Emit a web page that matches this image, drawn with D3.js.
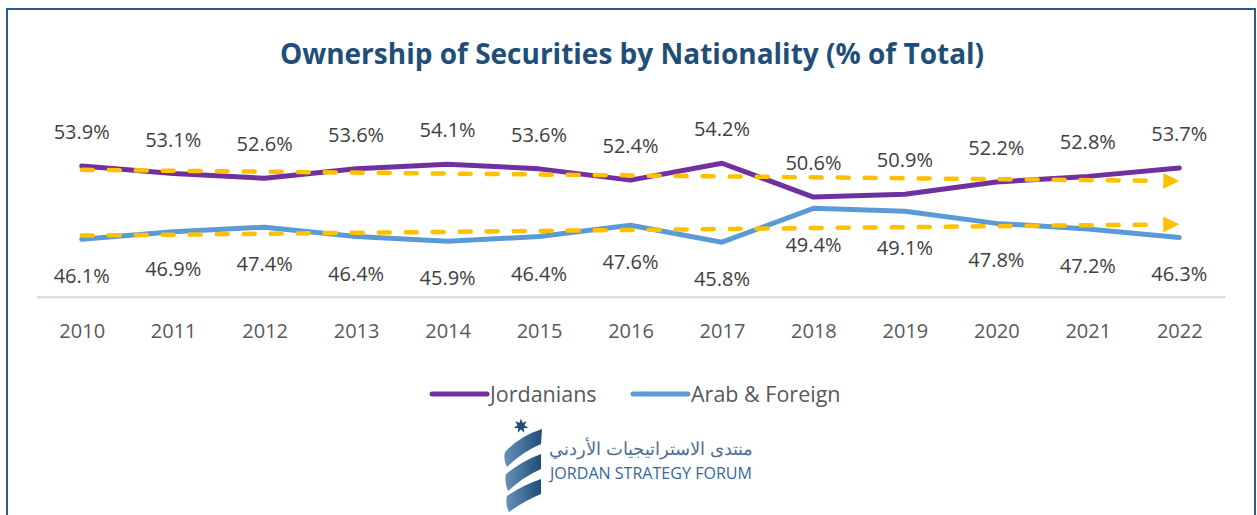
<!DOCTYPE html>
<html>
<head>
<meta charset="utf-8">
<script src="https://cdn.jsdelivr.net/npm/d3@7"></script>
<style>
  body { margin: 0; background: #fff; }
  svg { display: block; }
  text { font-family: "Open Sans", "Noto Sans", sans-serif; }
</style>
</head>
<body>
<svg id="chart" width="1257" height="515"></svg>
<script>

// data
var years       = ["2010","2011","2012","2013","2014","2015","2016","2017","2018","2019","2020","2021","2022"];
var jordanians  = [53.9, 53.1, 52.6, 53.6, 54.1, 53.6, 52.4, 54.2, 50.6, 50.9, 52.2, 52.8, 53.7];
var arabForeign = [46.1, 46.9, 47.4, 46.4, 45.9, 46.4, 47.6, 45.8, 49.4, 49.1, 47.8, 47.2, 46.3];
var trendJor    = [53.5, 52.3];   // dashed trend, first and last year
var trendArab   = [46.5, 47.7];
var seriesNames = ["Jordanians", "Arab & Foreign"];

var titleText   = "Ownership of Securities by Nationality (% of Total)";
var logoArabic  = "منتدى الاستراتيجيات الأردني";
var logoEnglish = "JORDAN STRATEGY FORUM";

var PURPLE = "#7030A0", BLUE = "#5B9BD5", GOLD = "#FFC000", NAVY = "#1F4E79";

var svg = d3.select("#chart");

// frame
svg.append("rect")
    .attr("x", 7).attr("y", 9)
    .attr("width", 1248).attr("height", 520)
    .attr("fill", "none")
    .attr("stroke", "#2B5B8A")
    .attr("stroke-width", 2);

// title
svg.append("text")
    .attr("x", 632).attr("y", 64)
    .attr("text-anchor", "middle")
    .attr("font-size", 28)
    .attr("font-weight", "bold")
    .attr("fill", NAVY)
    .text(titleText);

var xScale = d3.scalePoint()
    .domain(years)
    .range([36, 1225])
    .padding(0.5);

var yScale = d3.scaleLinear()
    .domain([40, 60])
    .range([296.7, 108.7]);

// x axis
var xAxis = d3.axisBottom(xScale).tickSize(0).tickPadding(0);
var gx = svg.append("g")
    .attr("transform", "translate(0,296.7)")
    .call(xAxis);
gx.select(".domain").attr("stroke", "#D9D9D9").attr("stroke-width", 2);
gx.selectAll(".tick text")
    .attr("y", 41)
    .attr("dy", null)
    .attr("font-size", 20)
    .attr("font-family", "Open Sans, Noto Sans, sans-serif")
    .attr("fill", "#595959");

var defs = svg.append("defs");
var grad = defs.append("linearGradient")
    .attr("id", "ribbon")
    .attr("x1", "0%").attr("x2", "100%").attr("y1", "0%").attr("y2", "0%");
grad.append("stop").attr("offset", "0%").attr("stop-color", "#6690B8");
grad.append("stop").attr("offset", "100%").attr("stop-color", "#1F4E79");

var line = d3.line()
    .x(function(d, i) { return xScale(years[i]); })
    .y(function(d) { return yScale(d); });

// series lines
svg.append("path")
    .attr("d", line(jordanians))
    .attr("fill", "none").attr("stroke", PURPLE)
    .attr("stroke-width", 5).attr("stroke-linejoin", "round").attr("stroke-linecap", "round");
svg.append("path")
    .attr("d", line(arabForeign))
    .attr("fill", "none").attr("stroke", BLUE)
    .attr("stroke-width", 5).attr("stroke-linejoin", "round").attr("stroke-linecap", "round");

// trend lines with arrow heads
[trendJor, trendArab].forEach(function(t) {
    var x0 = xScale(years[0]), x1 = xScale(years[years.length - 1]);
    var y0 = yScale(t[0]), y1 = yScale(t[1]);
    var ang = Math.atan2(y1 - y0, x1 - x0);
    var headL = 16, headW = 8;
    var bx = x1 - headL * Math.cos(ang), by = y1 - headL * Math.sin(ang);
    var ex = x1 - (headL + 5) * Math.cos(ang), ey = y1 - (headL + 5) * Math.sin(ang);
    svg.append("path")
	.attr("d", "M" + x0 + "," + y0 + "L" + ex + "," + ey)
	.attr("fill", "none")
	.attr("stroke", GOLD)
	.attr("stroke-width", 4.5)
	.attr("stroke-linecap", "round")
	.attr("stroke-dasharray", "11,16");
    svg.append("path")
	.attr("d", "M" + x1 + "," + y1 +
	      "L" + (bx - headW * Math.sin(ang)) + "," + (by + headW * Math.cos(ang)) +
	      "L" + (bx + headW * Math.sin(ang)) + "," + (by - headW * Math.cos(ang)) + "Z")
	.attr("fill", GOLD);
});

// data labels
svg.selectAll(".lblJ")
    .data(jordanians)
    .enter().append("text")
    .attr("x", function(d, i) { return xScale(years[i]); })
    .attr("y", function(d) { return yScale(d) - 27; })
    .attr("text-anchor", "middle")
    .attr("font-size", 20)
    .attr("fill", "#404040")
    .text(function(d) { return d.toFixed(1) + "%"; });

svg.selectAll(".lblA")
    .data(arabForeign)
    .enter().append("text")
    .attr("x", function(d, i) { return xScale(years[i]); })
    .attr("y", function(d) { return yScale(d) + 44; })
    .attr("text-anchor", "middle")
    .attr("font-size", 20)
    .attr("fill", "#404040")
    .text(function(d) { return d.toFixed(1) + "%"; });

// legend
var legendX = [432, 633];
var legendC = [PURPLE, BLUE];
seriesNames.forEach(function(name, k) {
    svg.append("line")
	.attr("x1", legendX[k]).attr("x2", legendX[k] + 55)
	.attr("y1", 394).attr("y2", 394)
	.attr("stroke", legendC[k]).attr("stroke-width", 5)
	.attr("stroke-linecap", "round");
    svg.append("text")
	.attr("x", legendX[k] + 58).attr("y", 401.5)
	.attr("font-size", 21.5)
	.attr("fill", "#595959")
	.text(name);
});

// logo
var star = [];
for (var kk = 0; kk < 14; kk++) {
    var r = (kk % 2 == 0) ? 7.5 : 3.5;
    var a = -Math.PI / 2 + kk * Math.PI / 7;
    star.push([521 + r * Math.cos(a), 426 + r * Math.sin(a)]);
}
svg.append("path")
    .attr("d", "M" + star.join("L") + "Z")
    .attr("fill", NAVY);

var bands = [
    "M505,452 Q520,436 542,429 L541,444 Q522,452 507,467 Q503,460 505,452Z",
    "M506,474 Q522,461 541,454 L541,469 Q523,477 508,491 Q504,482 506,474Z",
    "M507,496 Q523,485 541,479 L541,494 Q524,501 509,512 Q505,504 507,496Z"
];
svg.selectAll(".band")
    .data(bands)
    .enter().append("path")
    .attr("d", function(d) { return d; })
    .attr("fill", "url(#ribbon)");

svg.append("text")
    .attr("x", 651).attr("y", 455)
    .attr("text-anchor", "middle")
    .attr("font-size", 18)
    .attr("font-family", "DejaVu Sans, Noto Sans, sans-serif")
    .attr("fill", "#4E6F90")
    .text(logoArabic);

svg.append("text")
    .attr("x", 550).attr("y", 478.5)
    .attr("font-size", 15.5)
    .attr("textLength", 202)
    .attr("lengthAdjust", "spacingAndGlyphs")
    .attr("fill", "#36679A")
    .text(logoEnglish);

</script>
</body>
</html>
